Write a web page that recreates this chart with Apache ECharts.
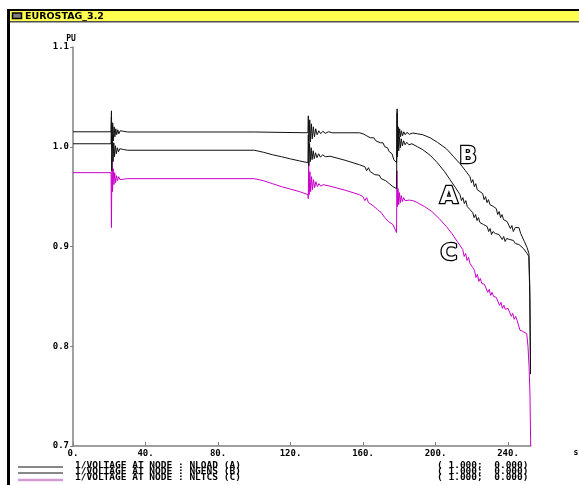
<!DOCTYPE html>
<html><head><meta charset="utf-8">
<script src="https://cdn.jsdelivr.net/npm/echarts@6/dist/echarts.min.js"></script>
<style>html,body{margin:0;padding:0;background:#fff}#c{width:579px;height:485px}</style>
</head><body><div id="c"></div>
<script>
// tick labels
const xTicks = [0, 40, 80, 120, 160, 200, 240];
const yTicks = [0.7, 0.8, 0.9, 1.0, 1.1];
const legendNames = ['1/VOLTAGE AT NODE : NLOAD (A)', '1/VOLTAGE AT NODE : NGENS (B)', '1/VOLTAGE AT NODE : NLTCS (C)'];
const legendScale = ['( 1.000;  0.000)', '( 1.000;  0.000)', '( 1.000;  0.000)'];
const curveLetters = ['B', 'A', 'C'];

// series values: [time s, voltage pu]
const ngensB = [[0,1.015],[21.0,1.015],[21.2,1.036],[21.5,0.999],[21.9,1.024],[22.3,1.006],[22.7,1.020],[23.1,1.010],[23.6,1.018],[24.1,1.012],[24.7,1.017],[25.3,1.013],[26.0,1.016],[26.8,1.014],[28,1.0155],[30,1.0148],[100,1.0148],[129.6,1.014],[129.8,1.031],[130.2,1.002],[130.6,1.027],[131.0,1.005],[131.5,1.023],[132.0,1.008],[132.6,1.020],[133.2,1.010],[133.9,1.018],[134.7,1.012],[135.6,1.016],[136.6,1.013],[137.8,1.0155],[139.2,1.0135],[141,1.015],[143,1.014],[158,1.014],[160,1.013],[162,1.011],[163,1.0115],[164,1.009],[166,1.009],[167,1.006],[168,1.007],[169.5,1.004],[171,1.004],[172,1.000],[173.5,0.999],[174.5,0.995],[176,0.993],[177,0.987],[178.5,0.984],[178.8,1.038],[179.1,1.005],[179.4,1.020],[179.8,1.008],[180.2,1.018],[180.7,1.010],[181.2,1.016],[181.8,1.011],[182.5,1.015],[183.3,1.012],[184.2,1.0145],[185.5,1.0125],[187.5,1.0138],[190,1.013],[193,1.012],[197,1.009],[201,1.0045],[206,0.998],[210,0.990],[213.5,0.983],[216.5,0.976],[219,0.970],[219.8,0.964],[220.6,0.967],[221.4,0.960],[222.2,0.963],[223,0.957],[224.5,0.955],[226,0.953],[226.8,0.947],[227.6,0.950],[228.4,0.944],[229.2,0.947],[230,0.942],[232,0.940],[233.5,0.938],[234.3,0.932],[235.1,0.935],[235.9,0.929],[236.7,0.932],[237.5,0.927],[239.5,0.925],[240.5,0.924],[241.3,0.918],[242.1,0.921],[242.9,0.915],[244,0.919],[246,0.919],[247,0.913],[249,0.905],[250.5,0.899],[251.5,0.893],[252.0,0.860],[252.3,0.800],[252.4,0.775]];

const nloadA = [[0,1.003],[21.0,1.003],[21.2,1.030],[21.4,0.976],[21.7,1.012],[22.1,0.985],[22.5,1.004],[22.9,0.990],[23.4,1.001],[23.9,0.993],[24.5,0.999],[25.1,0.995],[25.8,0.998],[26.6,0.996],[28,0.9972],[30,0.9965],[100,0.9965],[105,0.9945],[110,0.992],[115,0.990],[120,0.9878],[125,0.9858],[129.6,0.984],[129.8,1.012],[130.1,0.981],[130.5,1.003],[130.9,0.985],[131.4,0.999],[131.9,0.987],[132.5,0.996],[133.1,0.988],[133.8,0.994],[134.6,0.989],[135.5,0.993],[136.5,0.9895],[137.7,0.992],[139.2,0.990],[141.8,0.9905],[150,0.9865],[158,0.982],[161,0.980],[162,0.976],[163,0.979],[164,0.975],[165,0.977],[166.5,0.972],[167.5,0.974],[169,0.9715],[170,0.968],[171,0.970],[172.5,0.966],[173.5,0.967],[174.5,0.963],[175.5,0.964],[176.5,0.960],[177.5,0.961],[178.5,0.958],[178.8,1.034],[179.0,0.990],[179.3,1.014],[179.7,0.996],[180.1,1.010],[180.6,0.999],[181.1,1.008],[181.7,1.001],[182.4,1.006],[183.2,1.002],[184.1,1.0045],[185.3,1.002],[187,1.003],[190,1.000],[193,0.997],[197,0.9915],[201,0.984],[205,0.975],[208,0.967],[211,0.959],[213.5,0.952],[214.3,0.946],[215.1,0.949],[215.9,0.943],[216.7,0.946],[217.5,0.940],[219,0.937],[220.5,0.934],[221.3,0.929],[222.1,0.932],[222.9,0.926],[223.7,0.929],[224.5,0.924],[226.5,0.922],[228.5,0.920],[229.3,0.915],[230.1,0.918],[230.9,0.912],[231.7,0.915],[233,0.913],[235,0.912],[236,0.911],[236.8,0.907],[237.6,0.910],[238.4,0.905],[239.2,0.908],[241,0.907],[243,0.906],[244,0.903],[246,0.902],[248.5,0.898],[250.5,0.893],[251.5,0.890],[252.0,0.850],[252.3,0.790],[252.4,0.772]];

const nltcsC = [[0,0.974],[21.0,0.974],[21.2,0.919],[21.5,0.990],[21.8,0.955],[22.2,0.978],[22.6,0.962],[23.0,0.974],[23.5,0.964],[24.0,0.971],[24.6,0.966],[25.2,0.970],[25.9,0.967],[26.7,0.969],[28,0.9675],[30,0.968],[100,0.968],[105,0.966],[110,0.963],[115,0.960],[120,0.9575],[125,0.955],[129.6,0.952],[129.8,0.948],[130.0,0.985],[130.3,0.952],[130.7,0.975],[131.1,0.955],[131.6,0.970],[132.1,0.957],[132.7,0.967],[133.3,0.959],[134.0,0.965],[134.8,0.960],[135.7,0.963],[136.7,0.9605],[138,0.962],[141.8,0.9605],[150,0.9565],[158,0.952],[160,0.950],[161,0.946],[162,0.949],[163,0.944],[164,0.946],[165.5,0.941],[166.5,0.943],[168,0.937],[169,0.939],[170,0.934],[171,0.935],[172,0.929],[173,0.930],[174,0.925],[175,0.926],[176.5,0.922],[177.5,0.921],[178.5,0.914],[178.7,0.976],[179.0,0.940],[179.3,0.958],[179.7,0.942],[180.1,0.954],[180.6,0.944],[181.1,0.951],[181.7,0.945],[182.4,0.949],[183.2,0.946],[184.2,0.948],[185.5,0.9465],[187.5,0.946],[190,0.944],[194,0.940],[198,0.935],[202,0.928],[206,0.920],[209,0.913],[212,0.905],[215,0.897],[215.8,0.890],[216.6,0.893],[217.4,0.886],[218.2,0.889],[219,0.883],[220.5,0.879],[221.5,0.876],[222.3,0.869],[223.1,0.872],[223.9,0.865],[224.7,0.868],[225.5,0.863],[227,0.862],[228,0.860],[228.8,0.854],[229.6,0.857],[230.4,0.851],[231.2,0.854],[232,0.850],[233.5,0.849],[234.5,0.847],[235.3,0.841],[236.1,0.844],[236.9,0.838],[237.7,0.841],[238.5,0.837],[240,0.838],[241,0.836],[241.8,0.830],[242.6,0.833],[243.4,0.827],[244.2,0.830],[245,0.826],[246,0.824],[246.6,0.816],[248,0.815],[250.3,0.8127],[251.0,0.800],[251.6,0.780],[252.1,0.752],[252.5,0.700]];

const MONO = '"DejaVu Sans Mono", "Liberation Mono", monospace';
const chart = echarts.init(document.getElementById('c'), null, {renderer: 'canvas'});

const legendColors = ['#111', '#111', '#d49ad4'];
const legendWidths = [1, 1, 2.5];
const legendRowsY = [466, 472, 478];
const legendLineY = [467, 473, 480];
const graphics = [
  // window frame & title bar
  {type: 'rect', shape: {x: 7, y: 9, width: 572, height: 2}, style: {fill: '#000'}},
  {type: 'rect', shape: {x: 7, y: 9, width: 3, height: 476}, style: {fill: '#000'}},
  {type: 'rect', shape: {x: 10, y: 11, width: 569, height: 10}, style: {fill: '#ffff50'}},
  {type: 'rect', shape: {x: 10, y: 21, width: 569, height: 1.5}, style: {fill: '#505050'}},
  {type: 'rect', shape: {x: 12.5, y: 13, width: 9, height: 5.5}, style: {fill: '#808080', stroke: '#000', lineWidth: 1.5}},
  {type: 'text', x: 25, y: 16.5, style: {text: 'EUROSTAG_3.2', font: 'bold 9.5px "DejaVu Sans", sans-serif', fill: '#000', textVerticalAlign: 'middle'}},
  // axis unit labels
  {type: 'text', x: 71, y: 39, style: {text: 'PU', font: 'bold 8px ' + MONO, fill: '#000', textAlign: 'center', textVerticalAlign: 'middle'}},
  {type: 'text', x: 576, y: 453, style: {text: 's', font: 'bold 8px ' + MONO, fill: '#000', textAlign: 'center', textVerticalAlign: 'middle'}},
];
// curve letters
const letterPos = [[468, 157], [449, 197], [449, 254]];
curveLetters.forEach((t, i) => graphics.push({type: 'text', x: letterPos[i][0], y: letterPos[i][1], style: {text: t, font: 'bold 23px "DejaVu Sans", sans-serif', fill: '#fff', stroke: '#000', lineWidth: 2.5, textAlign: 'center', textVerticalAlign: 'middle'}}));
// legend
legendNames.forEach((n, i) => {
  graphics.push({type: 'line', shape: {x1: 18, y1: legendLineY[i], x2: 63, y2: legendLineY[i]}, style: {stroke: legendColors[i], lineWidth: legendWidths[i]}});
  graphics.push({type: 'text', x: 75, y: legendRowsY[i], style: {text: n, font: 'bold 9.5px ' + MONO, fill: '#000', textVerticalAlign: 'middle'}});
  graphics.push({type: 'text', x: 437, y: legendRowsY[i], style: {text: legendScale[i], font: 'bold 9.5px ' + MONO, fill: '#000', textVerticalAlign: 'middle'}});
});

const lineColors = ['#111', '#111', '#c800c8'];
chart.setOption({
  animation: false,
  backgroundColor: '#fff',
  grid: {left: 73, top: 47, width: 457.7, height: 399, containLabel: false},
  xAxis: {
    type: 'value', min: 0, max: 252.5,
    axisLine: {show: true, lineStyle: {color: '#808080', width: 1.5}},
    axisTick: {show: true, inside: true, length: 4, customValues: xTicks, lineStyle: {color: '#808080'}},
    axisLabel: {customValues: xTicks, formatter: v => v + '.', fontFamily: MONO, fontWeight: 'bold', fontSize: 9, color: '#000', margin: 3},
    splitLine: {show: false}
  },
  yAxis: {
    type: 'value', min: 0.7, max: 1.1, interval: 0.1,
    axisLine: {show: true, lineStyle: {color: '#808080', width: 1.5}},
    axisTick: {show: true, inside: false, length: 3, lineStyle: {color: '#808080'}},
    axisLabel: {formatter: v => v.toFixed(1), fontFamily: MONO, fontWeight: 'bold', fontSize: 9, color: '#000', margin: 4},
    splitLine: {show: false}
  },
  series: [
    {name: 'NLOAD (A)', type: 'line', data: nloadA, showSymbol: false, lineStyle: {color: lineColors[0], width: 1}, z: 3},
    {name: 'NGENS (B)', type: 'line', data: ngensB, showSymbol: false, lineStyle: {color: lineColors[1], width: 1}, z: 3},
    {name: 'NLTCS (C)', type: 'line', data: nltcsC, showSymbol: false, lineStyle: {color: lineColors[2], width: 1}, z: 2}
  ],
  graphic: graphics
});
</script></body></html>
